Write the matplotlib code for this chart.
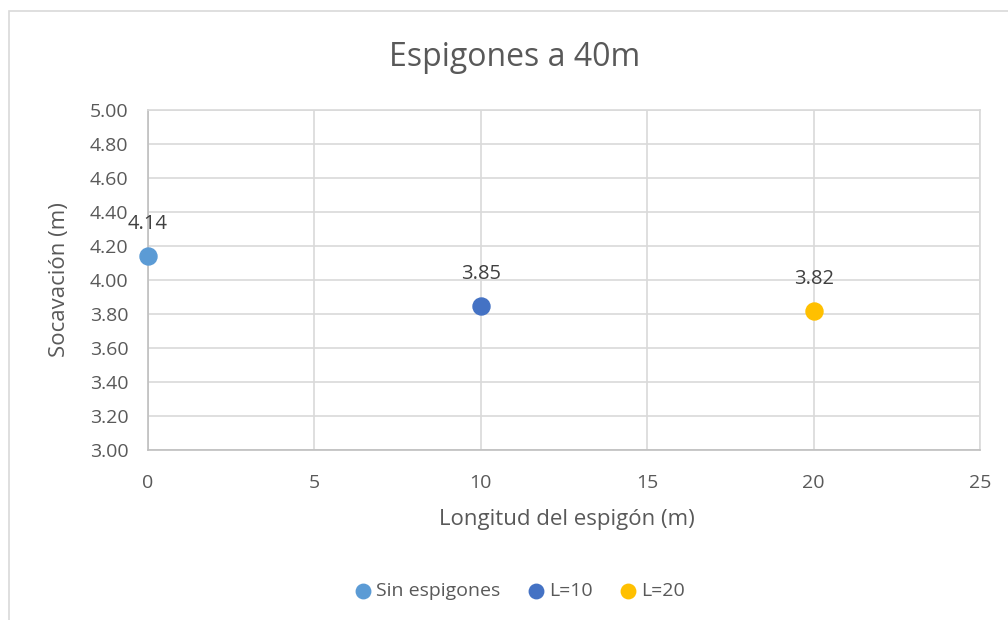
import matplotlib
matplotlib.use("Agg")
import matplotlib.pyplot as plt
from matplotlib.patches import Rectangle

# data
series = ["Sin espigones", "L=10", "L=20"]
longitud = [0, 10, 20]
socavacion = [4.14, 3.85, 3.82]
colors = ["#5B9BD5", "#4472C4", "#FFC000"]

plt.rcParams["font.family"] = ["Open Sans", "DejaVu Sans"]
txt = "#595959"
grid_c = "#D9D9D9"
W, H = 1008, 620

fig = plt.figure(figsize=(W / 100, H / 100), dpi=100)
ax = fig.add_axes([148 / W, 1 - 450 / H, (980 - 148) / W, (450 - 110) / H])

# chart border like the spreadsheet frame
fig.patches.append(Rectangle((9 / W, -0.05), 1.2, (H - 11) / H + 0.05,
                             transform=fig.transFigure, fill=False,
                             edgecolor="#D9D9D9", linewidth=1.2))

for name, x, y, c in zip(series, longitud, socavacion, colors):
    ax.scatter([x], [y], s=150, color=c, label=name, zorder=3, clip_on=False)
    ax.annotate(f"{y:.2f}", (x, y), xytext=(0, 23), textcoords="offset points",
                ha="center", va="center", fontsize=14.5, color="#404040")

ax.set_xlim(0, 25)
ax.set_ylim(3.0, 5.0)
ax.set_xticks(range(0, 26, 5))
ax.set_yticks([3.0 + 0.2 * i for i in range(11)])
ax.yaxis.set_major_formatter(plt.FormatStrFormatter("%.2f"))
ax.tick_params(length=0, labelsize=14, colors=txt)
ax.tick_params(axis="y", pad=14)
ax.tick_params(axis="x", pad=17)
ax.grid(color=grid_c, linewidth=1.2)
ax.set_axisbelow(True)
for s in ax.spines.values():
    s.set_color(grid_c)
    s.set_linewidth(1.2)
ax.spines["left"].set_color("#BFBFBF")
ax.spines["bottom"].set_color("#BFBFBF")

fig.text(515 / W, 1 - 57 / H, "Espigones a 40m", fontsize=23, color=txt,
         ha="center", va="center")
fig.text(567 / W, 1 - 520 / H, "Longitud del espigón (m)", fontsize=16,
         color=txt, ha="center", va="center")
fig.text(60 / W, 1 - 280 / H, "Socavación (m)", fontsize=16, color=txt,
         ha="center", va="center", rotation=90)

fig.legend(loc="center", bbox_to_anchor=(520 / W, 1 - 591 / H), ncol=3,
           frameon=False, fontsize=14, labelcolor=txt, handlelength=0.8,
           handletextpad=0.3, columnspacing=1.4, markerscale=0.85)

fig.savefig("out.png", dpi=100)
